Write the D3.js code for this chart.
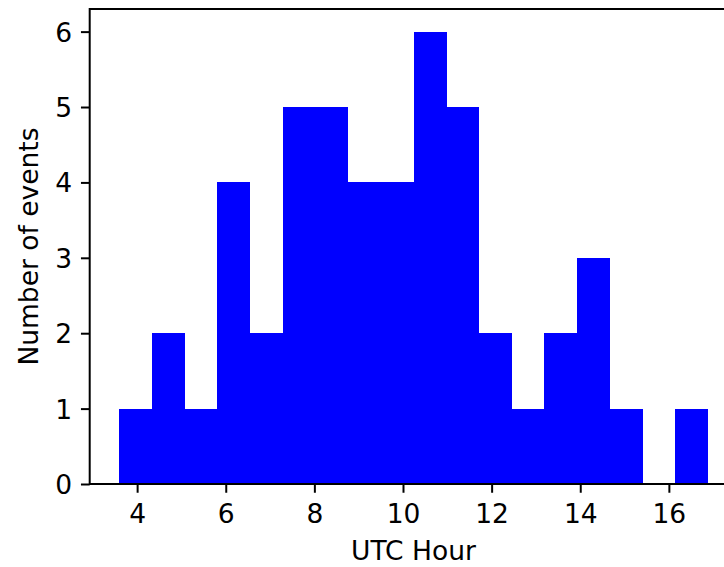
<!DOCTYPE html>
<html>
<head>
<meta charset="utf-8">
<script src="https://cdn.jsdelivr.net/npm/d3@7"></script>
<style>
  html, body { margin: 0; padding: 0; background: #ffffff; }
  svg { display: block; }
  text { font-family: "DejaVu Sans", sans-serif; fill: #000; }
</style>
</head>
<body>
<script>
// ---- data ----
const binMin = 3.594;          // left edge of first bin (UTC hour)
const binMax = 16.88;          // right edge of last bin (UTC hour)
const counts = [1, 2, 1, 4, 2, 5, 5, 4, 4, 6, 5, 2, 1, 2, 3, 1, 0, 1];
const xTicks = [4, 6, 8, 10, 12, 14, 16];
const yTicks = [0, 1, 2, 3, 4, 5, 6];
const xLabel = "UTC Hour";
const yLabel = "Number of events";

// ---- layout ----
const W = 724, H = 567;
const mLeft = 89.7, mRight = 737.3, mTop = 9, mBottom = 484;
const fontSize = 26.5, tickLen = 8.75, pad = 8.75, lw = 2;

const nb = counts.length;
const bw = (binMax - binMin) / nb;
const bins = counts.map((c, i) => ({ x0: binMin + i * bw, x1: binMin + (i + 1) * bw, c }));

const span = binMax - binMin;
const x = d3.scaleLinear().domain([binMin - 0.05 * span, binMax + 0.05 * span]).range([mLeft, mRight]);
const yMax = d3.max(counts);
const y = d3.scaleLinear().domain([0, yMax * 1.05]).range([mBottom, mTop]);

const svg = d3.select("body").append("svg").attr("width", W).attr("height", H);

// bars
svg.append("g").selectAll("rect").data(bins).join("rect")
  .attr("x", d => x(d.x0))
  .attr("width", d => x(d.x1) - x(d.x0) + 0.3)
  .attr("y", d => y(d.c))
  .attr("height", d => y(0) - y(d.c))
  .attr("fill", "#0000ff")
  .attr("shape-rendering", "crispEdges");

// x axis
const xAxis = d3.axisBottom(x).tickValues(xTicks).tickSize(tickLen).tickPadding(pad).tickFormat(d3.format("d"));
const gx = svg.append("g").attr("transform", `translate(0,${mBottom})`).call(xAxis);
gx.select(".domain").remove();
gx.selectAll(".tick line").attr("stroke", "#000").attr("stroke-width", lw);
gx.selectAll(".tick text").attr("font-size", fontSize).attr("font-family", "DejaVu Sans")
  .attr("dy", null).attr("y", 39);

// y axis
const yAxis = d3.axisLeft(y).tickValues(yTicks).tickSize(tickLen).tickPadding(pad).tickFormat(d3.format("d"));
const gy = svg.append("g").attr("transform", `translate(${mLeft},0)`).call(yAxis);
gy.select(".domain").remove();
gy.selectAll(".tick line").attr("stroke", "#000").attr("stroke-width", lw);
gy.selectAll(".tick text").attr("font-size", fontSize).attr("font-family", "DejaVu Sans")
  .attr("dy", "0.36em").attr("x", -(tickLen + pad));

// spines
svg.append("rect")
  .attr("x", mLeft).attr("y", mTop)
  .attr("width", mRight - mLeft).attr("height", mBottom - mTop)
  .attr("fill", "none").attr("stroke", "#000").attr("stroke-width", lw)
  .attr("stroke-linejoin", "miter");

// axis labels
svg.append("text")
  .attr("x", (mLeft + mRight) / 2).attr("y", 560)
  .attr("text-anchor", "middle").attr("font-size", fontSize)
  .text(xLabel);

svg.append("text")
  .attr("transform", `translate(38,${(mTop + mBottom) / 2}) rotate(-90)`)
  .attr("text-anchor", "middle").attr("font-size", fontSize)
  .text(yLabel);
</script>
</body>
</html>
